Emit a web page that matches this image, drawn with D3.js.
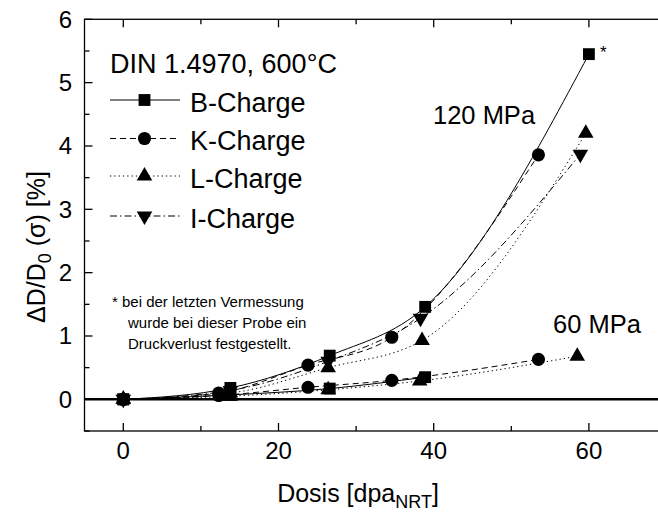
<!DOCTYPE html>
<html><head><meta charset="utf-8">
<script src="https://cdn.jsdelivr.net/npm/d3@7"></script>
<style>body{margin:0;background:#fff}svg{display:block;font-family:"Liberation Sans",Arial,sans-serif}</style>
</head><body><svg id="c" width="658" height="513"></svg>
<script>
// ---- data ----
const seriesNames = ["B-Charge", "K-Charge", "L-Charge", "I-Charge"];
const legendTitle = "DIN 1.4970, 600°C";
// 120 MPa
const b120x = [0, 13.8, 26.6, 38.9, 60.0];
const b120y = [0, 0.18, 0.69, 1.46, 5.45];
const k120x = [0, 12.3, 23.8, 34.6, 53.5];
const k120y = [0, 0.10, 0.54, 0.98, 3.86];
const l120x = [0, 13.8, 26.4, 38.5, 59.6];
const l120y = [0, 0.10, 0.50, 0.93, 4.20];
const i120x = [0, 13.8, 26.4, 38.3, 58.9];
const i120y = [0, 0.14, 0.60, 1.28, 3.87];
// 60 MPa
const b60x = [0, 13.8, 26.6, 38.9];
const b60y = [0, 0.07, 0.17, 0.35];
const k60x = [0, 12.3, 23.8, 34.6, 53.5];
const k60y = [0, 0.06, 0.19, 0.30, 0.63];
const l60x = [0, 13.8, 26.4, 38.2, 58.5];
const l60y = [0, 0.05, 0.15, 0.29, 0.68];
const xTicks = [0, 20, 40, 60];
const yTicks = [0, 1, 2, 3, 4, 5, 6];
const noteLines = ["* bei der letzten Vermessung", "wurde bei dieser Probe ein", "Druckverlust festgestellt."];

// ---- chart ----
const svg = d3.select("#c");
const x = d3.scaleLinear().domain([-5, 70]).range([84.5, 666.5]);
const y = d3.scaleLinear().domain([-0.5, 6]).range([431, 19.3]);
const X0 = x(-5), X1 = x(70), Y0 = y(-0.5), Y1 = y(6);

const styles = {
  "B-Charge": {dash: null, sym: d3.symbolSquare, size: 140, rot: 0},
  "K-Charge": {dash: "6,4", sym: d3.symbolCircle, size: 135, rot: 0},
  "L-Charge": {dash: "1.3,3", sym: d3.symbolTriangle, size: 105, rot: 0},
  "I-Charge": {dash: "7,3,1.5,3", sym: d3.symbolTriangle, size: 105, rot: 180}
};
const series = [
  {name: "B-Charge", xs: b120x, ys: b120y},
  {name: "K-Charge", xs: k120x, ys: k120y},
  {name: "L-Charge", xs: l120x, ys: l120y},
  {name: "I-Charge", xs: i120x, ys: i120y},
  {name: "B-Charge", xs: b60x, ys: b60y},
  {name: "K-Charge", xs: k60x, ys: k60y},
  {name: "L-Charge", xs: l60x, ys: l60y}
];

// zero line
svg.append("line").attr("x1", X0).attr("x2", X1).attr("y1", y(0)).attr("y2", y(0))
  .attr("stroke", "#000").attr("stroke-width", 2.5);

// frame axes (ticks inward)
const axG = svg.append("g").attr("stroke", "#000").attr("stroke-width", 1.3).attr("fill", "none");
axG.append("rect").attr("x", X0).attr("y", Y1).attr("width", X1 - X0).attr("height", Y0 - Y1);
const xMinor = d3.range(-0, 71, 10).filter(v => !xTicks.includes(v));
const yMinor = d3.range(-0.5, 6.01, 0.5).filter(v => !yTicks.includes(v));
xTicks.forEach(v => {
  axG.append("line").attr("x1", x(v)).attr("x2", x(v)).attr("y1", Y0).attr("y2", Y0 - 8);
  axG.append("line").attr("x1", x(v)).attr("x2", x(v)).attr("y1", Y1).attr("y2", Y1 + 8);
});
xMinor.forEach(v => {
  axG.append("line").attr("x1", x(v)).attr("x2", x(v)).attr("y1", Y0).attr("y2", Y0 - 5);
  axG.append("line").attr("x1", x(v)).attr("x2", x(v)).attr("y1", Y1).attr("y2", Y1 + 5);
});
yTicks.forEach(v => {
  axG.append("line").attr("x1", X0).attr("x2", X0 + 8).attr("y1", y(v)).attr("y2", y(v));
});
yMinor.forEach(v => {
  axG.append("line").attr("x1", X0).attr("x2", X0 + 5).attr("y1", y(v)).attr("y2", y(v));
});

// tick labels
svg.append("g").selectAll("text").data(xTicks).join("text")
  .attr("x", d => x(d)).attr("y", 459).attr("text-anchor", "middle")
  .attr("font-size", 24).text(d => d);
svg.append("g").selectAll("text").data(yTicks).join("text")
  .attr("x", 72).attr("y", d => y(d) + 8.5).attr("text-anchor", "end")
  .attr("font-size", 24).text(d => d);

// axis titles
const xt = svg.append("text").attr("x", 358).attr("y", 502).attr("text-anchor", "middle").attr("font-size", 25);
xt.append("tspan").text("Dosis [dpa");
xt.append("tspan").attr("font-size", 18).attr("dy", 6).text("NRT");
xt.append("tspan").attr("dy", -6).text("]");
const yt = svg.append("text").attr("transform", "translate(45,247) rotate(-90)")
  .attr("text-anchor", "middle").attr("font-size", 25);
yt.append("tspan").text("ΔD/D");
yt.append("tspan").attr("font-size", 18).attr("dy", 6).text("0");
yt.append("tspan").attr("dy", -6).text(" (σ) [%]");

// curves
const line = d3.line().x(d => x(d[0])).y(d => y(d[1])).curve(d3.curveMonotoneX);
const plot = svg.append("g");
series.forEach(s => {
  const st = styles[s.name];
  const pts = s.xs.map((v, i) => [v, s.ys[i]]);
  plot.append("path").attr("d", line(pts)).attr("fill", "none").attr("stroke", "#000")
    .attr("stroke-width", 1).attr("stroke-dasharray", st.dash);
});
series.forEach(s => {
  const st = styles[s.name];
  const sym = d3.symbol().type(st.sym).size(st.size);
  s.xs.forEach((v, i) => {
    plot.append("path").attr("d", sym())
      .attr("transform", `translate(${x(v)},${y(s.ys[i])}) rotate(${st.rot})`).attr("fill", "#000");
  });
});

// legend
svg.append("text").attr("x", 110).attr("y", 72.5).attr("font-size", 27).text(legendTitle);
const legY = [100, 138.5, 176, 216];
seriesNames.forEach((n, i) => {
  const st = styles[n];
  svg.append("line").attr("x1", 110).attr("x2", 180).attr("y1", legY[i]).attr("y2", legY[i])
    .attr("stroke", "#000").attr("stroke-width", 1).attr("stroke-dasharray", st.dash);
  svg.append("path").attr("d", d3.symbol().type(st.sym).size(st.size)())
    .attr("transform", `translate(144.5,${legY[i]}) rotate(${st.rot})`).attr("fill", "#000");
  svg.append("text").attr("x", 190).attr("y", legY[i] + 11.5).attr("font-size", 27).text(n);
});

// annotations
svg.append("text").attr("x", 433).attr("y", 124).attr("font-size", 25.5).text("120 MPa");
svg.append("text").attr("x", 553).attr("y", 333).attr("font-size", 25.5).text("60 MPa");
svg.append("text").attr("x", 600).attr("y", 58).attr("font-size", 17).text("*");
const note = svg.append("text").attr("font-size", 15);
noteLines.forEach((t, i) => {
  note.append("tspan").attr("x", i === 0 ? 112 : 128).attr("y", 307 + i * 21).text(t);
});
</script></body></html>
